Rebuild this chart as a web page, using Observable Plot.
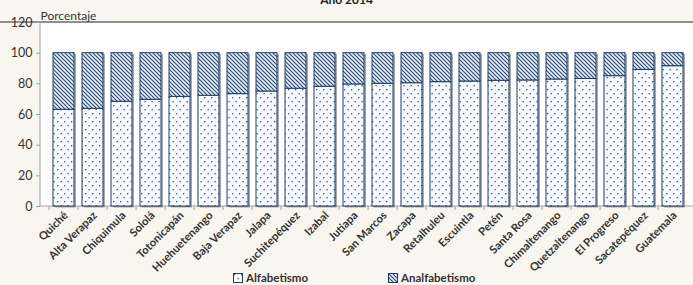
<!DOCTYPE html>
<html><head><meta charset="utf-8">
<script src="https://cdn.jsdelivr.net/npm/d3@7"></script>
<script src="https://cdn.jsdelivr.net/npm/@observablehq/plot@0.6"></script>
<style>
html,body{margin:0;padding:0;background:#f9f6ef;}
#wrap{position:relative;width:693px;height:285px;overflow:hidden;font-family:Lato,"Open Sans",sans-serif;}
#title{position:absolute;top:-8px;left:0;width:693px;text-align:center;font-weight:bold;font-size:12px;color:#222;}
.leg{position:absolute;top:271px;font-weight:bold;font-size:11.5px;color:#333;display:flex;align-items:center;gap:3px;}
.leg svg{display:block;}
</style></head><body>
<div id="wrap"><div id="chart"></div><div id="title">Año 2014</div>
<div class="leg" style="left:233px"><svg width="10" height="10"><rect x="0.5" y="0.5" width="9" height="9" fill="url(#dots)" stroke="#1f3e66"/></svg><span>Alfabetismo</span></div>
<div class="leg" style="left:388px"><svg width="10" height="10"><rect x="0.5" y="0.5" width="9" height="9" fill="url(#hatch)" stroke="#1f3e66"/></svg><span>Analfabetismo</span></div>
</div>
<script>
const departamentos = ["Quiché","Alta Verapaz","Chiquimula","Sololá","Totonicapán","Huehuetenango","Baja Verapaz","Jalapa","Suchitepéquez","Izabal","Jutiapa","San Marcos","Zacapa","Retalhuleu","Escuintla","Petén","Santa Rosa","Chimaltenango","Quetzaltenango","El Progreso","Sacatepéquez","Guatemala"];
const alfabetismo = [63.1,63.7,68.3,69.6,71.5,72.2,73.3,75.0,76.8,78.1,79.6,80.0,80.4,81.1,81.5,82.0,82.2,82.8,83.2,85.0,89.1,91.5];
const analfabetismo = [36.9,36.3,31.7,30.4,28.5,27.8,26.7,25.0,23.2,21.9,20.4,20.0,19.6,18.9,18.5,18.0,17.8,17.2,16.8,15.0,10.9,8.5];
const yTicks = [0,20,40,60,80,100,120];
const yLabel = "Porcentaje";

const rows = departamentos.map((d,i)=>({d, alf: alfabetismo[i], an: analfabetismo[i], tot: alfabetismo[i]+analfabetismo[i]}));

const step = (696-40)/22;

const background = (index, scales, values, dims) => {
  const g = d3.create("svg:g");
  const defs = g.append("defs");
  const dots = defs.append("pattern").attr("id","dots").attr("patternUnits","userSpaceOnUse").attr("width",7).attr("height",8);
  dots.append("rect").attr("width",7).attr("height",8).attr("fill","#f8fafd");
  dots.append("rect").attr("x",1).attr("y",1).attr("width",1.3).attr("height",1.3).attr("fill","#2a5599");
  dots.append("rect").attr("x",4.5).attr("y",5).attr("width",1.3).attr("height",1.3).attr("fill","#2a5599");
  const hatch = defs.append("pattern").attr("id","hatch").attr("patternUnits","userSpaceOnUse").attr("width",4).attr("height",4);
  hatch.append("rect").attr("width",4).attr("height",4).attr("fill","#e8eef5");
  hatch.append("path").attr("d","M-1,-1L5,5M3,-1L5,1M-1,3L1,5").attr("stroke","#2f5080").attr("stroke-width",1.2);
  const x0 = dims.marginLeft, yt = scales.y(120), yb = scales.y(0);
  g.append("rect").attr("x",x0).attr("y",yt).attr("width",dims.width-x0).attr("height",yb-yt).attr("fill","#fff");
  g.append("line").attr("x1",0).attr("x2",dims.width).attr("y1",yt).attr("y2",yt).attr("stroke","#6b6b6b").attr("stroke-width",1.3);
  g.append("line").attr("x1",x0).attr("x2",x0).attr("y1",yt).attr("y2",yb).attr("stroke","#a0a0a0");
  g.append("line").attr("x1",x0).attr("x2",dims.width).attr("y1",yb).attr("y2",yb).attr("stroke","#a0a0a0");
  return g.node();
};

const plot = Plot.plot({
  width: 693, height: 285,
  marginLeft: 40, marginTop: 22, marginBottom: 79, marginRight: 0,
  style: {background: "transparent", fontFamily: "Lato, 'Open Sans', sans-serif", overflow: "visible"},
  x: {domain: departamentos, range: [40, 696], paddingInner: 0.27, paddingOuter: 0.135, axis: null, label: null},
  y: {domain: [0, 120], range: [206, 22], axis: null, label: null},
  marks: [
    background,
    Plot.barY(rows, {x: "d", y1: 0, y2: "tot", fill: "#5f6670", fillOpacity: 0.55, dx: 2, dy: 1.5}),
    Plot.barY(rows, {x: "d", y1: 0, y2: "alf", fill: "url(#dots)", stroke: "#1f3e66", strokeWidth: 1}),
    Plot.barY(rows, {x: "d", y1: "alf", y2: "tot", fill: "url(#hatch)", stroke: "#1f3e66", strokeWidth: 1}),
    Plot.axisY({ticks: yTicks, tickSize: 4, tickPadding: 4, fontSize: 12.5, label: null, stroke: "#a0a0a0", fill: "#333"}),
    Plot.axisX({tickSize: 4, tickFormat: () => "", label: null, dx: -step/2, stroke: "#a0a0a0"}),
    Plot.axisX({tickSize: 0, tickPadding: 7, tickRotate: -45, fontSize: 11.2, fontWeight: "bold", label: null, fill: "#333", dx: 2}),
    Plot.text([yLabel], {frameAnchor: "top-left", dy: -11, textAnchor: "start", fontSize: 12, fill: "#333"})
  ]
});
document.getElementById("chart").appendChild(plot);
</script>
</body></html>
